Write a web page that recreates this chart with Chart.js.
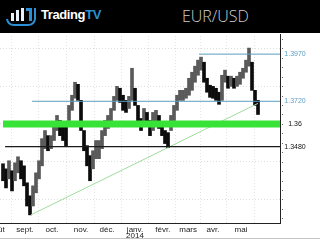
<!DOCTYPE html>
<html>
<head>
<meta charset="utf-8">
<script src="https://cdn.jsdelivr.net/npm/chart.js@4"></script>
<style>
body { margin: 0; width: 320px; height: 240px; overflow: hidden; background: #fff; font-family: "Liberation Sans", Arial, sans-serif; }
#head { position: absolute; left: 0; top: 0; width: 320px; height: 33px; background: #000; }
#logo { position: absolute; left: 5px; top: 5px; }
#brand { position: absolute; left: 41px; top: 7px; font-size: 13px; font-weight: bold; color: #fff; letter-spacing: -0.4px; }
#brand span { color: #2b8fd6; }
#title { position: absolute; left: 182px; top: 5px; font-size: 16px; color: #cfcfcf; font-family: "Open Sans", "Liberation Sans", sans-serif; font-weight: 300; }
#chart { position: absolute; left: 0; top: 33px; }
</style>
</head>
<body>
<div id="head">
  <svg id="logo" width="32" height="24" viewBox="0 0 32 24">
    <rect x="6" y="8" width="3" height="8" fill="#e8f2fa"/>
    <rect x="11" y="5" width="3" height="11" fill="#e8f2fa"/>
    <rect x="16" y="3" width="3" height="13" fill="#e8f2fa"/>
    <path d="M21 3 h6 v13 h-3 v-10 h-3 z" fill="#2b8fd6"/>
    <path d="M1 14 q1 7 8 7 h14 q7 0 8 -7 v-11 h-2 v11 q-1 5 -6 5 h-14 q-5 0 -6 -5 z" fill="#2b8fd6"/>
  </svg>
  <div id="brand">Trading<span>TV</span></div>
  <div id="title">EUR/USD</div>
</div>
<canvas id="chart" width="320" height="207"></canvas>
<script>
// axe du temps (unités = barres)
const monthLabels = ['août', 'sept.', 'oct.', 'nov.', 'déc.', 'janv.', 'févr.', 'mars', 'avr.', 'mai'];
const monthPos = [-1, 8.3, 17.3, 27, 35.7, 45, 54.3, 62.7, 71, 80.3];
const yearLabel = '2014';
const yearUnder = 'janv.';

// cours EUR/USD (plus haut / plus bas par barre)
const highs = [1.3389, 1.3362, 1.3405, 1.3352, 1.3394, 1.3426, 1.3405, 1.3378, 1.3288, 1.3219,
  1.3272, 1.3341, 1.3405, 1.3522, 1.3565, 1.3538, 1.3538, 1.3592, 1.3645, 1.3618,
  1.3592, 1.3592, 1.3698, 1.3752, 1.3821, 1.3810, 1.3725, 1.3565, 1.3485, 1.3432,
  1.3458, 1.3512, 1.3512, 1.3565, 1.3618, 1.3645, 1.3682, 1.3746, 1.3799, 1.3789,
  1.3752, 1.3725, 1.3746, 1.3895, 1.3789, 1.3698, 1.3629, 1.3682, 1.3661, 1.3618,
  1.3661, 1.3672, 1.3645, 1.3608, 1.3565, 1.3554, 1.3645, 1.3698, 1.3752, 1.3778,
  1.3778, 1.3789, 1.3842, 1.3874, 1.3906, 1.3938, 1.3954, 1.3927, 1.3842, 1.3805,
  1.3799, 1.3789, 1.3768, 1.3858, 1.3885, 1.3853, 1.3853, 1.3842, 1.3853, 1.3874,
  1.3895, 1.3938, 1.4002, 1.3927, 1.3778, 1.3725];
const lows = [1.3299, 1.3261, 1.3309, 1.3245, 1.3299, 1.3341, 1.3309, 1.3272, 1.3165, 1.3118,
  1.3165, 1.3235, 1.3309, 1.3378, 1.3469, 1.3458, 1.3469, 1.3512, 1.3565, 1.3538,
  1.3512, 1.3485, 1.3618, 1.3672, 1.3736, 1.3725, 1.3565, 1.3458, 1.3378, 1.3299,
  1.3362, 1.3416, 1.3416, 1.3469, 1.3538, 1.3576, 1.3608, 1.3672, 1.3725, 1.3714,
  1.3672, 1.3661, 1.3682, 1.3725, 1.3698, 1.3592, 1.3565, 1.3608, 1.3592, 1.3538,
  1.3565, 1.3608, 1.3576, 1.3538, 1.3496, 1.3474, 1.3565, 1.3618, 1.3672, 1.3725,
  1.3725, 1.3736, 1.3752, 1.3778, 1.3821, 1.3858, 1.3885, 1.3821, 1.3768, 1.3741,
  1.3736, 1.3725, 1.3704, 1.3725, 1.3821, 1.3789, 1.3799, 1.3789, 1.3799, 1.3810,
  1.3842, 1.3874, 1.3906, 1.3778, 1.3698, 1.3650];

// niveaux tracés
const levelValues = [1.3970, 1.3720, 1.36, 1.3480];
const levelLabels = ['1.3970', '1.3720', '1.36', '1.3480'];
const levelFrom = [66.3, 10.7, 1, 1.7];
const trendX = [10.3, 86];
const trendY = [1.3118, 1.3709];
const gridValues = [1.32, 1.34, 1.36, 1.38, 1.40];

const X_MAX = 93.33;
const levelColors = ['#5b9dc2', '#5b9dc2', '#36e336', '#1a1a1a'];
const levelWidths = [1, 1, 7, 1.3];
const labelColors = ['#5b9dc2', '#5b9dc2', '#111', '#111'];

// alternance gris / noir comme des bougies
const barColors = highs.map((h, i) => {
  if (i === 0) return '#111';
  const mid = (h + lows[i]) / 2, prev = (highs[i - 1] + lows[i - 1]) / 2;
  return mid >= prev ? '#5a5a5a' : '#0c0c0c';
});

const datasets = [{
  type: 'bar',
  data: highs.map((h, i) => ({ x: i + 1, y: [lows[i], h] })),
  backgroundColor: barColors,
  barThickness: 3,
  grouped: false,
  order: 10
}];

levelValues.forEach((v, k) => {
  datasets.push({
    type: 'line',
    data: [{ x: levelFrom[k], y: v }, { x: X_MAX, y: v }],
    borderColor: levelColors[k],
    borderWidth: levelWidths[k],
    pointRadius: 0,
    order: 1
  });
});

datasets.push({
  type: 'line',
  data: [{ x: trendX[0], y: trendY[0] }, { x: trendX[1], y: trendY[1] }],
  borderColor: '#9edc9e',
  borderWidth: 1,
  pointRadius: 0,
  order: 2
});

const labelsPlugin = {
  id: 'labels',
  afterDraw(chart) {
    const ctx = chart.ctx;
    const xs = chart.scales.x, ys = chart.scales.y;
    const area = chart.chartArea;
    ctx.save();
    // axes
    ctx.fillStyle = '#222';
    ctx.fillRect(0, Math.round(area.bottom), Math.round(area.right) + 1, 1);
    ctx.fillRect(Math.round(area.right), area.top - 2, 1, area.bottom - area.top + 2);

    ctx.font = '8px "Liberation Sans", Arial, sans-serif';
    ctx.fillStyle = '#222';
    ctx.textAlign = 'center';
    ctx.textBaseline = 'top';
    monthLabels.forEach((m, i) => {
      const px = xs.getPixelForValue(monthPos[i]);
      ctx.fillText(m, px, area.bottom + 3);
      if (m === yearUnder) ctx.fillText(yearLabel, px, area.bottom + 9);
    });
    ctx.font = '7px "Liberation Sans", Arial, sans-serif';
    ctx.textBaseline = 'middle';
    levelValues.forEach((v, k) => {
      ctx.fillStyle = labelColors[k];
      ctx.fillText(levelLabels[k], area.right + 15, ys.getPixelForValue(v));
    });
    // petits repères pointillés de l'axe droit
    ctx.fillStyle = '#666';
    for (let v = 1.31; v < 1.405; v += 0.005) {
      ctx.fillRect(area.right + 2, Math.round(ys.getPixelForValue(v)), 1, 1);
    }
    ctx.fillStyle = '#c4c4c4';
    ctx.fillRect(0, chart.height - 2, chart.width, 1);
    ctx.restore();
  }
};

new Chart(document.getElementById('chart'), {
  type: 'bar',
  data: { datasets },
  options: {
    responsive: false,
    animation: false,
    layout: { padding: { left: 0, right: 40, top: 3, bottom: 17 } },
    plugins: { legend: { display: false }, tooltip: { enabled: false } },
    scales: {
      x: {
        type: 'linear',
        min: 0,
        max: X_MAX,
        offset: false,
        afterBuildTicks: s => { s.ticks = monthPos.filter(p => p > 0).map(p => ({ value: p })); },
        ticks: { display: false },
        grid: { color: '#e4e4e4', drawTicks: false },
        border: { display: false, dash: [1, 2] }
      },
      y: {
        position: 'right',
        min: 1.3075,
        max: 1.4066,
        afterBuildTicks: s => { s.ticks = gridValues.map(v => ({ value: v })); },
        ticks: { display: false },
        grid: { color: '#dedede', drawTicks: false },
        border: { display: false, dash: [1, 2] }
      }
    }
  },
  plugins: [labelsPlugin]
});
</script>
</body>
</html>
